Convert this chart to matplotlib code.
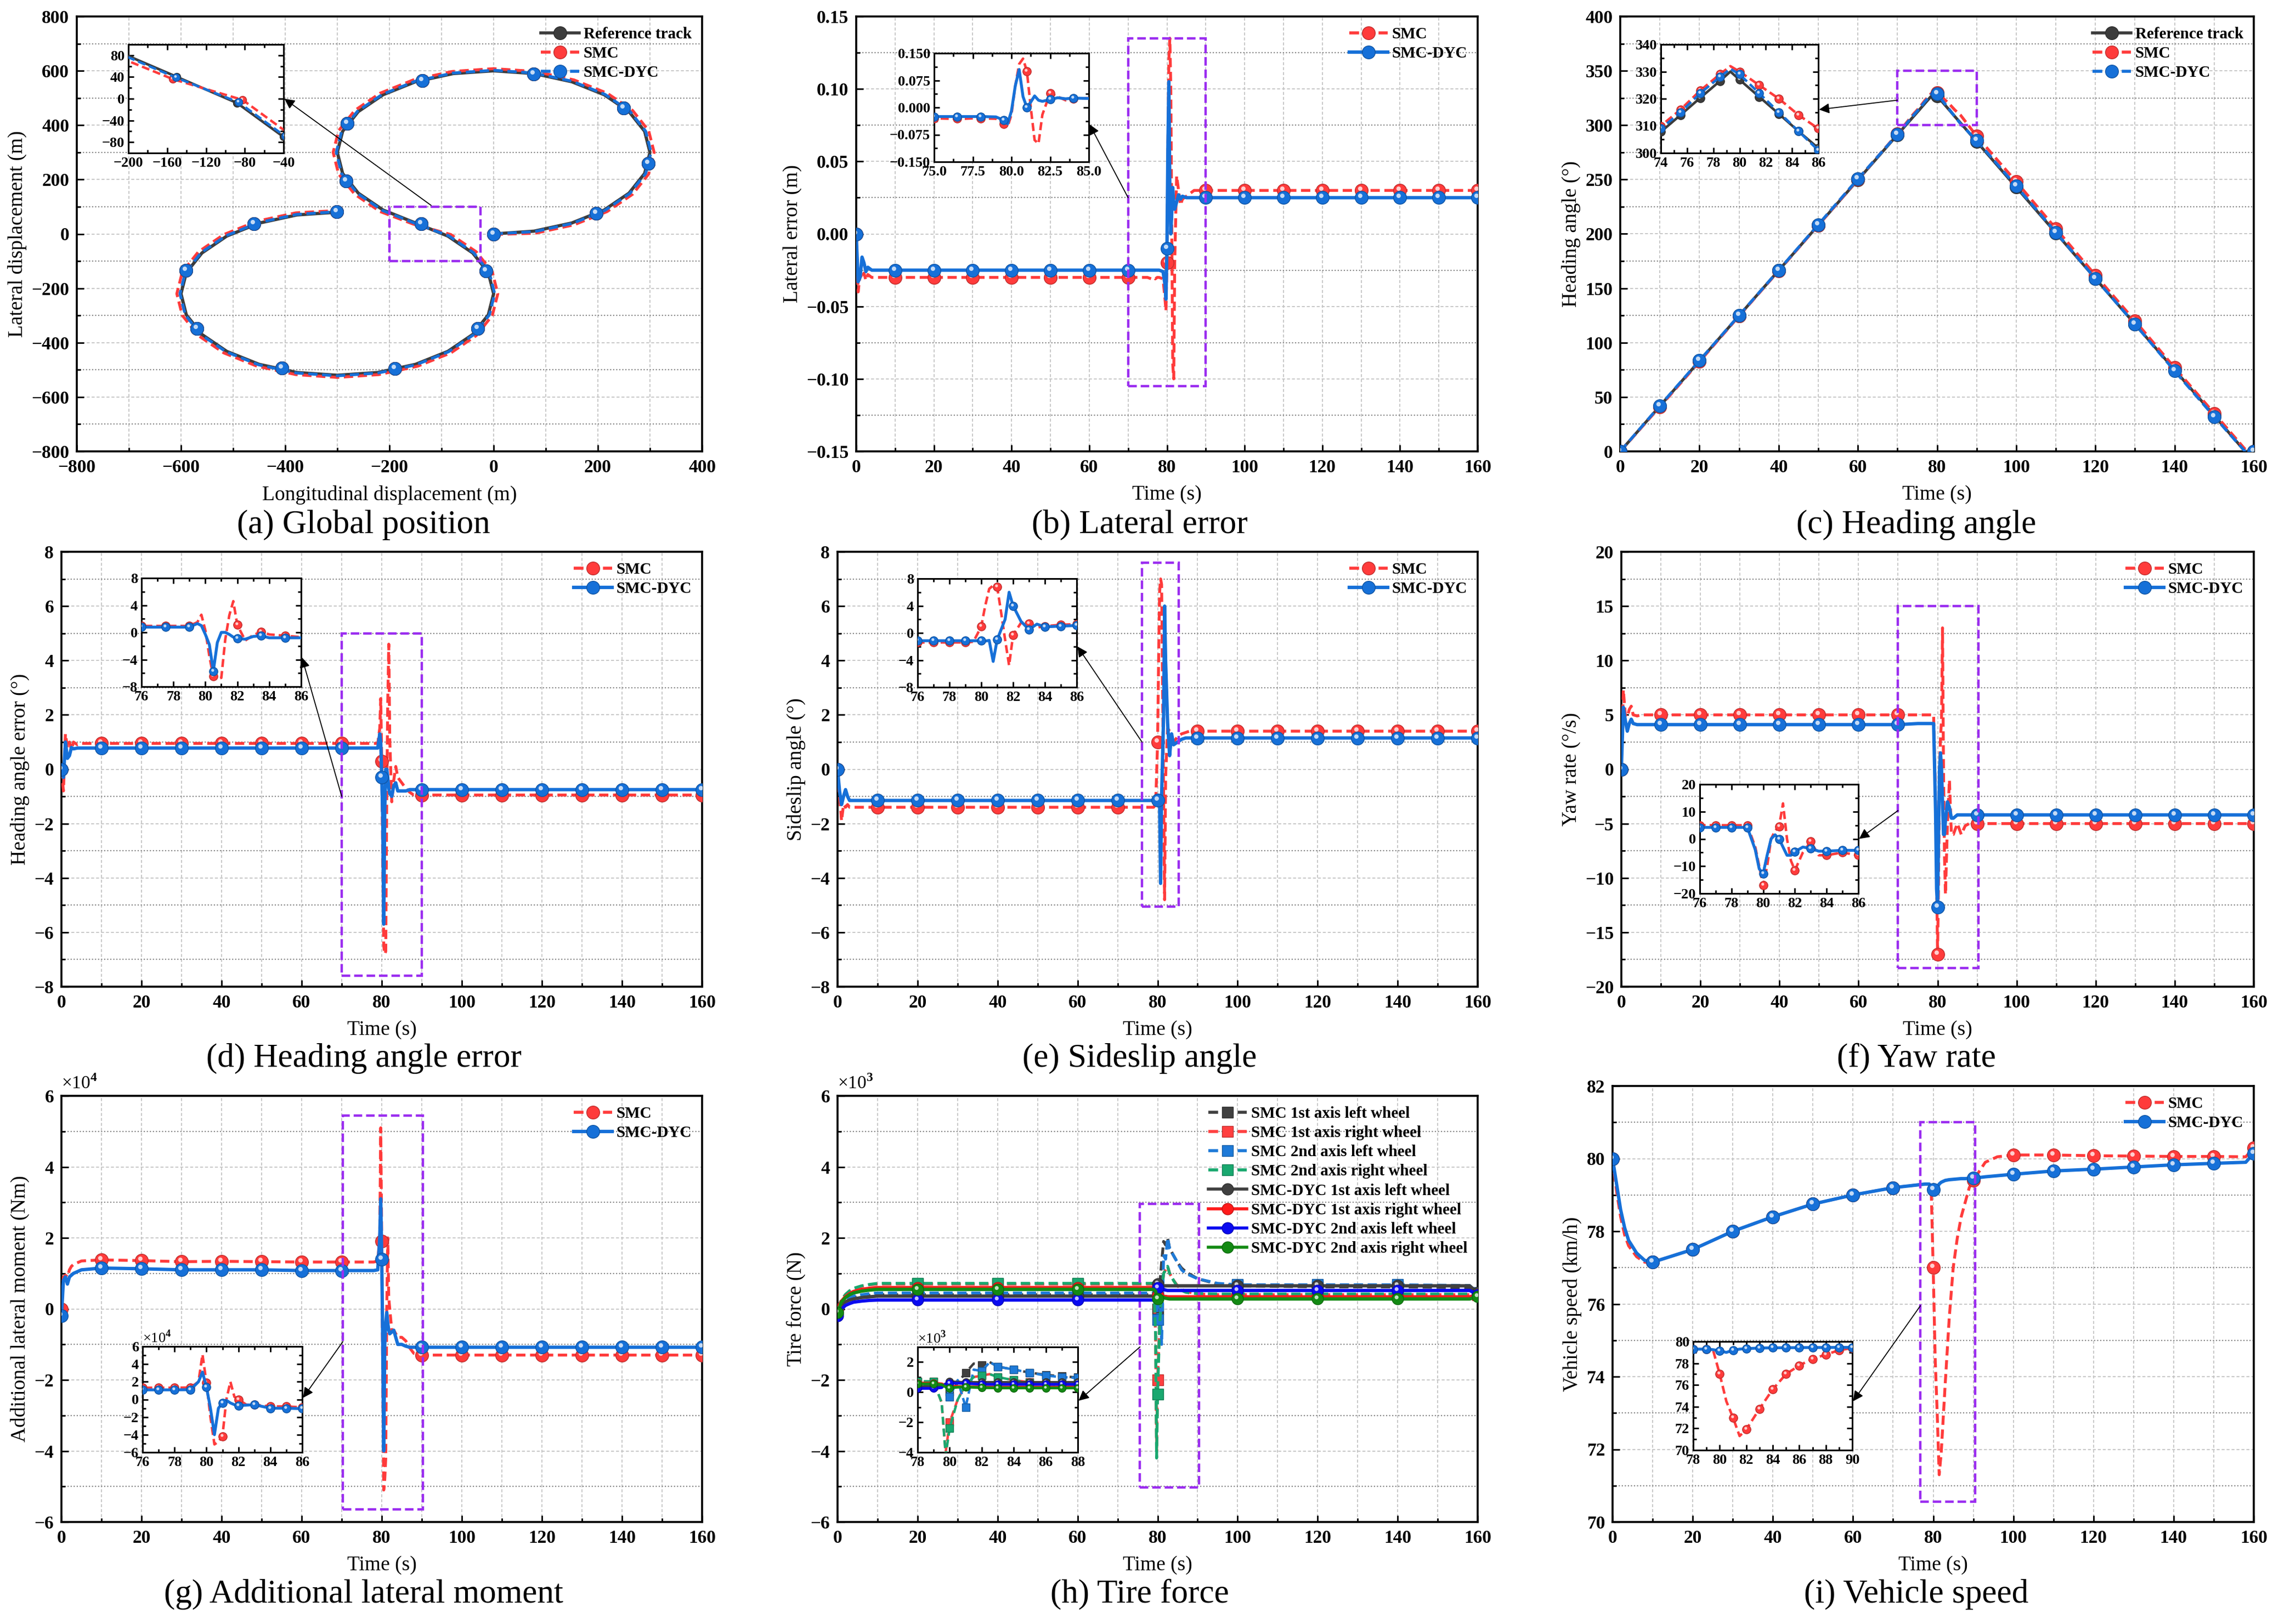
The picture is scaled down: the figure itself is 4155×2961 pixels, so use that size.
import matplotlib
matplotlib.use("Agg")
import matplotlib.pyplot as plt
import matplotlib.colors as mcolors
from matplotlib.lines import Line2D
from matplotlib.path import Path
from matplotlib.patches import Rectangle, ConnectionPatch
from matplotlib.ticker import MultipleLocator, FuncFormatter

plt.rcParams["font.family"] = ["Liberation Serif", "DejaVu Serif"]
plt.rcParams["font.weight"] = "bold"
plt.rcParams["mathtext.fontset"] = "custom"
plt.rcParams["mathtext.rm"] = "Liberation Serif"

W, H = 4155, 2961

RED = "#ff3b3b"
BLUE = "#1670d8"
GRAY = "#3c3c3c"
PURPLE = "#9b2df0"

# ---------------- (a) global position ----------------
ref_x = [0, 77.6, 150, 212.1, 259.8, 289.8, 300, 289.8, 259.8, 212.1, 150, 77.6, 0,
         -77.6, -150, -212.1, -259.8, -289.8, -300, -289.8, -259.8, -212.1, -150,
         -87.9, -40.2, -10.2, 0, -10.2, -40.2, -87.9, -150, -222.4, -300, -377.6,
         -450, -512.1, -559.8, -589.8, -600, -589.8, -559.8, -512.1, -450, -377.6, -300]
ref_y = [0, 10.2, 40.2, 87.9, 150, 222.4, 300, 377.6, 450, 512.1, 559.8, 589.8, 600,
         589.8, 559.8, 512.1, 450, 377.6, 300, 222.4, 150, 87.9, 40.2,
         -7.9, -70, -142.4, -220, -297.6, -370, -432.1, -479.8, -509.8, -520, -509.8,
         -479.8, -432.1, -370, -297.6, -220, -142.4, -70, -7.9, 39.8, 69.8, 80]
smc_x = [0, 79.7, 154, 217.8, 266.7, 297.5, 308, 297.5, 266.7, 217.8, 154, 79.7, 0,
         -79.7, -154, -217.8, -266.7, -297.5, -308, -297.5, -266.7, -217.8, -154,
         -82.2, -33.3, -2.5, 8, -2.5, -33.3, -82.2, -146, -220.3, -300, -379.7,
         -454, -517.8, -566.7, -597.5, -608, -597.5, -566.7, -517.8, -454, -379.7, -300]
smc_y = [-2, 2.5, 33.3, 82.2, 146, 220.3, 300, 379.7, 454, 517.8, 566.7, 597.5, 608,
         597.5, 566.7, 517.8, 454, 379.7, 300, 220.3, 146, 82.2, 36,
         -2.2, -66, -140.3, -220, -299.7, -374, -437.8, -486.7, -517.5, -528, -517.5,
         -486.7, -437.8, -374, -299.7, -220, -140.3, -66, -2.2, 46.7, 77.5, 86]
dyc_x = [0, 78.2, 151, 213.5, 261.5, 291.7, 302, 291.7, 261.5, 213.5, 151, 78.2, 0,
         -78.2, -151, -213.5, -261.5, -291.7, -302, -291.7, -261.5, -213.5, -151,
         -86.5, -38.5, -8.3, 2, -8.3, -38.5, -86.5, -149, -221.8, -300, -378.2,
         -451, -513.5, -561.5, -591.7, -602, -591.7, -561.5, -513.5, -451, -378.2, -300]
dyc_y = [0, 8.3, 38.5, 86.5, 149, 221.8, 300, 378.2, 451, 513.5, 561.5, 591.7, 602,
         591.7, 561.5, 513.5, 451, 378.2, 300, 221.8, 149, 86.5, 39,
         -6.5, -69, -141.8, -220, -298.2, -371, -433.5, -481.5, -511.7, -522, -511.7,
         -481.5, -433.5, -371, -298.2, -220, -141.8, -69, -6.5, 41.5, 71.7, 82]
mark_x = [0, 197, 297, 249, 77, -137, -281, -283, -139, -15, -31, -189, -406, -569, -591, -460, -301]
mark_y = [0, 75, 259, 464, 588, 564, 407, 195, 37, -137, -349, -495, -493, -349, -134, 37, 82]

# ---------------- shared simulation time (b, d, e, f, g) ----------------
t_sim = [0, 0.5, 1, 1.5, 2, 2.5, 3, 4, 5,
         10, 20, 30, 40, 50, 60, 70,
         75, 76, 76.5, 77, 77.5, 78, 79, 79.5, 79.75,
         80, 80.25, 80.5, 80.75, 81, 81.25, 81.5, 81.75, 82,
         82.5, 83, 83.5, 84, 85, 86, 87, 88,
         90, 100, 110, 120, 130, 140, 150, 160]

lat_err_smc = [0, -0.040, -0.028, -0.031, -0.027, -0.032, -0.028, -0.030, -0.030,
               -0.030, -0.030, -0.030, -0.030, -0.030, -0.030, -0.030,
               -0.030, -0.031, -0.030, -0.031, -0.030, -0.030, -0.031, -0.045, -0.053,
               -0.020, 0.060, 0.120, 0.135, 0.100, 0.000, -0.090, -0.100, -0.020,
               0.040, 0.030, 0.020, 0.024, 0.026, 0.028, 0.030, 0.030,
               0.030, 0.030, 0.030, 0.030, 0.030, 0.030, 0.030, 0.030]
lat_err_dyc = [0, -0.033, -0.030, -0.016, -0.020, -0.026, -0.023, -0.025, -0.025,
               -0.025, -0.025, -0.025, -0.025, -0.025, -0.025, -0.025,
               -0.025, -0.025, -0.025, -0.025, -0.025, -0.025, -0.026, -0.035, -0.045,
               -0.010, 0.060, 0.105, 0.030, 0.000, 0.015, 0.032, 0.020, 0.017,
               0.022, 0.027, 0.024, 0.026, 0.025, 0.025, 0.025, 0.025,
               0.025, 0.025, 0.025, 0.025, 0.025, 0.025, 0.025, 0.025]

head_err_smc = [0, -0.8, 1.3, 0.8, 1.0, 0.7, 1.0, 0.9, 0.95,
                0.95, 0.95, 0.95, 0.95, 0.95, 0.95, 0.95,
                0.95, 0.95, 0.95, 0.95, 0.95, 0.95, 0.95, 1.5, 2.6,
                0.3, -3.5, -6.5, -6.8, -6.7, -1.0, 2.5, 4.6, 1.1,
                -1.2, -0.4, 0.1, -0.3, -0.5, -0.7, -0.85, -0.95,
                -0.95, -0.95, -0.95, -0.95, -0.95, -0.95, -0.95, -0.95]
head_err_dyc = [0, -0.3, 1.0, 0.4, 0.5, 0.8, 0.75, 0.78, 0.78,
                0.78, 0.78, 0.78, 0.78, 0.78, 0.78, 0.78,
                0.78, 0.78, 0.78, 0.78, 0.78, 0.78, 0.78, 1.3, 1.0,
                -0.3, -1.8, -5.7, -1.5, 0.0, 0.0, -0.3, -0.7, -0.9,
                -1.0, -0.6, -0.5, -0.8, -0.8, -0.8, -0.75, -0.75,
                -0.75, -0.75, -0.75, -0.75, -0.75, -0.75, -0.75, -0.75]

slip_smc = [0, -1.0, -1.9, -1.3, -1.4, -1.3, -1.4, -1.4, -1.4,
            -1.4, -1.4, -1.4, -1.4, -1.4, -1.4, -1.4,
            -1.4, -1.4, -1.4, -1.4, -1.4, -1.4, -1.4, -1.3, -0.2,
            1.0, 4.0, 6.5, 7.0, 6.8, 3.0, -1.0, -4.8, -0.3,
            1.5, 1.4, 0.8, 1.0, 1.2, 1.3, 1.35, 1.4,
            1.4, 1.4, 1.4, 1.4, 1.4, 1.4, 1.4, 1.4]
slip_dyc = [0, -0.8, -1.3, -1.0, -0.75, -1.0, -1.15, -1.15, -1.15,
            -1.15, -1.15, -1.15, -1.15, -1.15, -1.15, -1.15,
            -1.15, -1.15, -1.15, -1.15, -1.15, -1.15, -1.15, -1.15, -1.15,
            -1.15, -1.2, -1.1, -4.2, -1.0, 0.5, 2.0, 6.0, 4.0,
            1.7, 0.5, 1.3, 0.9, 1.0, 1.1, 1.15, 1.15,
            1.15, 1.15, 1.15, 1.15, 1.15, 1.15, 1.15, 1.15]

yaw_smc = [0, 7.3, 5.0, 4.8, 5.5, 5.8, 5.0, 4.9, 5.0,
           5.0, 5.0, 5.0, 5.0, 5.0, 5.0, 5.0,
           5.0, 5.0, 5.0, 5.0, 5.0, 5.0, 5.0, -3.0, -10.0,
           -17.0, -10.0, 0.0, 3.0, 4.5, 13.0, 0.0, -8.0, -11.5,
           -5.0, -1.0, -6.0, -6.0, -5.0, -6.0, -5.2, -5.0,
           -5.0, -5.0, -5.0, -5.0, -5.0, -5.0, -5.0, -5.0]
yaw_dyc = [0, 5.7, 4.5, 3.5, 4.2, 4.6, 4.2, 4.1, 4.1,
           4.1, 4.1, 4.1, 4.1, 4.1, 4.1, 4.1,
           4.2, 4.2, 4.2, 4.2, 4.2, 4.2, 4.2, -4.0, -11.0,
           -12.7, -6.0, 0.0, 1.5, 0.0, -3.0, -6.0, -6.0, -4.7,
           -3.0, -3.5, -4.5, -4.5, -4.2, -4.2, -4.2, -4.2,
           -4.2, -4.2, -4.2, -4.2, -4.2, -4.2, -4.2, -4.2]

# additional lateral moment, in units of 1e4 Nm
moment_smc = [0, 0.9, 0.95, 0.9, 1.1, 1.2, 1.25, 1.3, 1.35,
              1.38, 1.36, 1.33, 1.34, 1.33, 1.32, 1.32,
              1.32, 1.32, 1.32, 1.32, 1.32, 1.32, 1.35, 2.0, 5.1,
              1.9, -2.0, -5.1, -4.8, -4.2, 0.0, 2.0, 0.3, 0.0,
              -0.6, -0.6, -0.7, -0.8, -0.8, -0.9, -1.1, -1.25,
              -1.3, -1.3, -1.3, -1.3, -1.3, -1.3, -1.3, -1.3]
moment_dyc = [-0.2, 0.8, 0.9, 0.7, 0.9, 0.95, 1.0, 1.05, 1.1,
              1.15, 1.13, 1.1, 1.1, 1.1, 1.08, 1.08,
              1.08, 1.08, 1.08, 1.08, 1.08, 1.08, 1.1, 2.0, 3.1,
              1.4, -1.0, -4.0, -1.0, -0.4, -0.1, -0.4, -0.6, -0.7,
              -0.65, -0.6, -0.8, -1.0, -1.0, -1.05, -1.08, -1.08,
              -1.08, -1.08, -1.08, -1.08, -1.08, -1.08, -1.08, -1.08]

# ---------------- (c) heading angle ----------------
t_head = [0, 10, 20, 30, 40, 50, 60, 70, 74, 75.5, 77, 78.5, 79.3, 80, 81.5, 83, 84.5, 86,
          90, 100, 110, 120, 130, 140, 150, 157.8, 160]
head_ref = [0, 41.6, 83.2, 124.8, 166.4, 208, 249.6, 291.2, 307.8, 314, 320.3, 326.5, 330,
            327, 320.7, 314.4, 308, 301.8, 285, 243, 201, 159, 117, 75, 33, 0, 0]
head_smc = [0, 41, 82.5, 124.5, 166, 208, 250, 292, 310, 316, 323, 329, 332, 330, 325, 320,
            314, 309, 290, 248, 205, 162, 120, 77, 35, 2, 0]
head_dyc = [0, 42, 83.5, 125, 166.5, 208.5, 250.5, 291.5, 309, 315, 322, 328, 331, 329, 322,
            315, 308, 301, 286, 244, 201.5, 159, 117, 74, 32, 0, 0]

# ---------------- (h) tire force, in units of 1e3 N ----------------
t_tire = [0, 1, 2, 3, 4, 6, 8, 10,
          20, 40, 60, 78,
          79, 79.5, 79.75, 80, 80.5, 81, 81.5, 82, 82.5,
          83, 84, 85, 86, 87, 88, 90, 95, 100,
          120, 140, 158, 160]
tire_labels = ["SMC 1st axis left wheel", "SMC 1st axis right wheel",
               "SMC 2nd axis left wheel", "SMC 2nd axis right wheel",
               "SMC-DYC 1st axis left wheel", "SMC-DYC 1st axis right wheel",
               "SMC-DYC 2nd axis left wheel", "SMC-DYC 2nd axis right wheel"]
tire_smc_1l = [0.0, 0.14, 0.22, 0.28, 0.32, 0.36, 0.38, 0.40,
               0.40, 0.40, 0.40, 0.40,
               0.40, 0.40, 0.20, 0.00, 0.60, 1.30, 1.90, 1.80, 2.00,
               1.70, 1.50, 1.30, 1.15, 1.05, 0.98, 0.85, 0.70, 0.65,
               0.62, 0.62, 0.60, 0.45]
tire_smc_1r = [0.0, 0.25, 0.40, 0.50, 0.57, 0.64, 0.68, 0.70,
               0.70, 0.70, 0.70, 0.70,
               0.70, -0.70, -4.00, -2.00, -0.50, 0.50, 1.00, 1.10, 1.20,
               1.00, 0.80, 0.65, 0.55, 0.50, 0.47, 0.42, 0.40, 0.40,
               0.40, 0.40, 0.40, 0.40]
tire_smc_2l = [0.0, 0.16, 0.26, 0.32, 0.36, 0.40, 0.43, 0.45,
               0.45, 0.45, 0.45, 0.45,
               0.45, 0.45, 0.40, -0.30, 0.80, -1.00, 1.50, 1.40, 2.00,
               1.70, 1.50, 1.30, 1.10, 1.00, 0.95, 0.85, 0.72, 0.68,
               0.68, 0.68, 0.66, 0.45]
tire_smc_2r = [0.0, 0.26, 0.41, 0.51, 0.58, 0.65, 0.69, 0.72,
               0.72, 0.72, 0.72, 0.72,
               0.72, -0.70, -4.20, -2.40, -0.50, 0.50, 1.00, 1.10, 1.20,
               1.00, 0.80, 0.62, 0.52, 0.47, 0.45, 0.43, 0.42, 0.42,
               0.42, 0.42, 0.42, 0.42]
tire_dyc_1l = [0.0, 0.13, 0.20, 0.25, 0.28, 0.32, 0.34, 0.36,
               0.36, 0.36, 0.36, 0.36,
               0.36, 0.40, 0.55, 0.70, 0.66, 0.65, 0.65, 0.65, 0.65,
               0.65, 0.65, 0.65, 0.65, 0.65, 0.65, 0.65, 0.65, 0.65,
               0.65, 0.65, 0.65, 0.45]
tire_dyc_1r = [0.0, 0.22, 0.35, 0.43, 0.49, 0.55, 0.58, 0.60,
               0.60, 0.60, 0.60, 0.60,
               0.60, 0.55, 0.45, 0.40, 0.38, 0.36, 0.35, 0.35, 0.34,
               0.34, 0.34, 0.34, 0.34, 0.34, 0.34, 0.34, 0.34, 0.34,
               0.34, 0.34, 0.34, 0.40]
tire_dyc_2l = [-0.2, 0.0, 0.10, 0.15, 0.19, 0.22, 0.24, 0.25,
               0.25, 0.25, 0.25, 0.25,
               0.25, 0.30, 0.55, 0.60, 0.60, 0.58, 0.55, 0.53, 0.52,
               0.52, 0.52, 0.52, 0.52, 0.52, 0.52, 0.52, 0.52, 0.52,
               0.52, 0.52, 0.52, 0.40]
tire_dyc_2r = [-0.1, 0.20, 0.32, 0.40, 0.45, 0.50, 0.53, 0.55,
               0.55, 0.55, 0.55, 0.55,
               0.55, 0.50, 0.35, 0.28, 0.33, 0.35, 0.32, 0.30, 0.29,
               0.28, 0.28, 0.28, 0.28, 0.28, 0.28, 0.28, 0.28, 0.28,
               0.28, 0.28, 0.28, 0.35]
tire_colors = ["#404040", "#ff4040", "#1e7ad8", "#19a86f",
               "#404040", "#ff1a1a", "#0a0af0", "#138a13"]

# ---------------- (i) vehicle speed ----------------
t_speed = [0, 1, 2, 3, 4, 6, 8, 10, 20, 30, 40, 50, 60, 70,
           78, 79, 79.5, 80, 80.5, 81, 81.5, 82,
           83, 84, 85, 86, 87, 88, 89, 90, 93, 96, 100,
           110, 120, 130, 140, 150, 158, 160]
speed_smc = [80.0, 79.1, 78.4, 77.9, 77.6, 77.3, 77.15, 77.15, 77.5, 78.0, 78.4, 78.75, 79.0, 79.2,
             79.3, 79.3, 79.2, 77.0, 74.5, 73.0, 71.3, 71.9,
             73.8, 75.6, 77.0, 77.8, 78.4, 78.8, 79.2, 79.4, 79.9, 80.05, 80.1,
             80.1, 80.08, 80.07, 80.06, 80.06, 80.05, 80.3]
speed_dyc = [80.0, 79.3, 78.6, 78.1, 77.75, 77.4, 77.2, 77.15, 77.5, 78.0, 78.4, 78.75, 79.0, 79.2,
             79.3, 79.3, 79.25, 79.15, 79.0, 79.2, 79.3, 79.35,
             79.4, 79.42, 79.43, 79.44, 79.45, 79.45, 79.46, 79.46, 79.5, 79.53, 79.57,
             79.66, 79.71, 79.77, 79.83, 79.87, 79.9, 80.15]

titles = ["(a) Global position", "(b) Lateral error", "(c) Heading angle",
          "(d) Heading angle error", "(e) Sideslip angle", "(f) Yaw rate",
          "(g) Additional lateral moment", "(h) Tire force", "(i) Vehicle speed"]

# pixel boxes (left, right, top, bottom) measured on the reference
main_px = {"a": (140, 1280, 30, 823), "b": (1561, 2694, 30, 823), "c": (2954, 4109, 30, 823),
           "d": (112, 1280, 1006, 1799), "e": (1527, 2694, 1006, 1799), "f": (2956, 4109, 1006, 1799),
           "g": (112, 1280, 1998, 2775), "h": (1527, 2694, 1998, 2775), "i": (2940, 4109, 1980, 2775)}
inset_px = {"a": (234, 517, 81, 279), "b": (1703, 1985, 97, 295), "c": (3028, 3315, 81, 279),
            "d": (258, 549, 1054, 1252), "e": (1673, 1963, 1055, 1253), "f": (3099, 3388, 1430, 1629),
            "g": (260, 551, 2455, 2648), "h": (1673, 1965, 2456, 2648), "i": (3087, 3377, 2446, 2644)}

TICK = 24
LABEL = 27
LEG = 21
TICK_IN = 19
TITLE = 44

# small off-centre glint that gives the ball markers their shaded look
GLINT = Path.make_compound_path(Path([(-1, -1), (1, 1)], [Path.MOVETO, Path.MOVETO]),
                                Path.circle((-0.22, 0.3), 0.34))


def frac(l, r, t, b):
    return [l / W, 1 - b / H, (r - l) / W, (b - t) / H]


def every(t, step, start=0.0, lo=-1e9, hi=1e9):
    out = []
    for v in t:
        k = (v - start) / step
        out.append(abs(k - round(k)) < 1e-6 and lo <= v <= hi)
    return out


def dark(c, f=0.75):
    r, g, b = mcolors.to_rgb(c)
    return (r * f, g * f, b * f)


def fmt(spec):
    def _f(v, pos):
        if abs(v) < 1e-9:
            v = 0.0
        return (spec % v).replace("-", "\u2212")
    return FuncFormatter(_f)


def style(ax, xlim, ylim, xstep, ystep, xspec="%d", yspec="%d", size=TICK, inset=False):
    ax.set_xlim(*xlim)
    ax.set_ylim(*ylim)
    ax.xaxis.set_major_locator(MultipleLocator(xstep))
    ax.xaxis.set_minor_locator(MultipleLocator(xstep / 2))
    ax.yaxis.set_major_locator(MultipleLocator(ystep))
    ax.yaxis.set_minor_locator(MultipleLocator(ystep / 2))
    ax.xaxis.set_major_formatter(fmt(xspec))
    ax.yaxis.set_major_formatter(fmt(yspec))
    ax.tick_params(which="both", direction="in", labelsize=size, width=2,
                   top=inset, right=inset)
    ax.tick_params(which="major", length=9 if not inset else 7, pad=10 if not inset else 5)
    ax.tick_params(which="minor", length=5 if not inset else 4)
    for s in ax.spines.values():
        s.set_linewidth(2.6 if not inset else 2.2)
    if not inset:
        ax.grid(True, which="major", axis="both", color="#c4c4c4", lw=1.3, ls=(0, (3, 2)))
        ax.grid(True, which="minor", axis="x", color="#c4c4c4", lw=1.3, ls=(0, (3, 2)))
        ax.grid(True, which="minor", axis="y", color="#8a8a8a", lw=1.6, ls=(0, (1, 1.5)))
        ax.set_axisbelow(True)


def series(ax, t, y, color, dashed, lw, mask, ms, marker="o", z=3, shine=True):
    line, = ax.plot(t, y, color=color, lw=lw, marker=marker, markevery=mask, ms=ms,
                    mfc=color, mec=dark(color), mew=1.0, zorder=z)
    if dashed:
        line.set_dashes((3.2, 1.6))
    if shine:
        ax.plot(t, y, ls="none", marker=GLINT, markevery=mask, ms=ms, mfc="white",
                mec="none", alpha=0.75, zorder=z + 0.1)


def handle(color, dashed, lw, marker="o", ms=17):
    h = Line2D([0], [0], color=color, lw=lw, marker=marker, ms=ms, mfc=color, mec=dark(color))
    if dashed:
        h.set_dashes((3.2, 1.6))
    return h


def legend(ax, handles, labels, size=LEG):
    ax.legend(handles, labels, loc="upper right", frameon=False, fontsize=size,
              handlelength=2.4, handletextpad=0.25, labelspacing=0.28, borderaxespad=0.25)


def zoom_box(ax, x0, x1, y0, y1):
    ax.add_patch(Rectangle((x0, y0), x1 - x0, y1 - y0, fill=False, ec=PURPLE, lw=3.2,
                           ls=(0, (3.5, 1.6)), zorder=6))


def arrow(fig, ax, ins, xy_data, y_frac):
    fig.add_artist(ConnectionPatch(xyA=xy_data, coordsA=ax.transData, xyB=(1.005, y_frac),
                                   coordsB=ins.transAxes, arrowstyle="-|>", mutation_scale=28,
                                   lw=1.3, color="black", zorder=20))


def xlabel(ax, text):
    ax.set_xlabel(text, fontsize=LABEL, labelpad=12)


def ylabel(ax, text):
    ax.set_ylabel(text, fontsize=LABEL, labelpad=6)


fig = plt.figure(figsize=(W / 100, H / 100), dpi=100)

# ---------------- (a) ----------------
ax = fig.add_axes(frac(*main_px["a"]))
style(ax, (-800, 400), (-800, 800), 200, 200)
ax.plot(ref_x, ref_y, color=GRAY, lw=4.2, zorder=3)
for xs, ys, c in ((smc_x, smc_y, RED), (dyc_x, dyc_y, BLUE)):
    ln, = ax.plot(xs, ys, color=c, lw=3.8, zorder=4)
    ln.set_dashes((3.2, 1.6))
for c, z in ((GRAY, 5), (RED, 6), (BLUE, 7)):
    series(ax, mark_x, mark_y, c, False, 0, [True] * len(mark_x), 17, z=z)
zoom_box(ax, -200, -25, -100, 100)
xlabel(ax, "Longitudinal displacement (m)")
ylabel(ax, "Lateral displacement (m)")
legend(ax, [handle(GRAY, False, 4), handle(RED, True, 4), handle(BLUE, True, 4)],
       ["Reference track", "SMC", "SMC-DYC"])
ins = fig.add_axes(frac(*inset_px["a"]))
style(ins, (-200, -40), (-100, 100), 40, 40, size=TICK_IN, inset=True)
ins.xaxis.set_minor_locator(MultipleLocator(20))
all_pts = [True] * len(ref_x)
series(ins, ref_x, ref_y, GRAY, False, 3.4, all_pts, 10, z=3)
series(ins, smc_x, smc_y, RED, True, 3.2, all_pts, 10, z=4)
series(ins, dyc_x, dyc_y, BLUE, True, 3.2, all_pts, 10, z=5)
arrow(fig, ax, ins, (-120, 105), 0.5)

# ---------------- time panels ----------------
mark10 = every(t_sim, 10)


def time_panel(key, ysmc, ydyc, ylim, ystep, yspec, ylab, box, tail, yfrac,
               in_x, in_y, in_xstep, in_ystep, in_xspec, in_yspec, in_mark):
    ax = fig.add_axes(frac(*main_px[key]))
    style(ax, (0, 160), ylim, 20, ystep, "%d", yspec)
    series(ax, t_sim, ysmc, RED, True, 3.8, mark10, 17, z=3)
    series(ax, t_sim, ydyc, BLUE, False, 4.4, mark10, 17, z=4)
    zoom_box(ax, *box)
    xlabel(ax, "Time (s)")
    ylabel(ax, ylab)
    legend(ax, [handle(RED, True, 4), handle(BLUE, False, 4.5)], ["SMC", "SMC-DYC"])
    ins = fig.add_axes(frac(*inset_px[key]))
    style(ins, in_x, in_y, in_xstep, in_ystep, in_xspec, in_yspec, size=TICK_IN, inset=True)
    series(ins, t_sim, ysmc, RED, True, 3.3, in_mark, 11, z=3)
    series(ins, t_sim, ydyc, BLUE, False, 3.8, in_mark, 11, z=4)
    arrow(fig, ax, ins, tail, yfrac)
    return ax, ins


time_panel("b", lat_err_smc, lat_err_dyc, (-0.15, 0.15), 0.05, "%.2f", "Lateral error (m)",
           (70, 90, -0.105, 0.135), (70, 0.025), 0.345,
           (75, 85), (-0.15, 0.15), 2.5, 0.075, "%.1f", "%.3f",
           every(t_sim, 1.5, 75, 75, 85))
time_panel("d", head_err_smc, head_err_dyc, (-8, 8), 2, "%d", "Heading angle error (°)",
           (70, 90, -7.6, 5.0), (70, -1.0), 0.27,
           (76, 86), (-8, 8), 2, 4, "%d", "%d", every(t_sim, 1.5, 76, 76, 86))
time_panel("e", slip_smc, slip_dyc, (-8, 8), 2, "%d", "Sideslip angle (°)",
           (76.1, 85.3, -5.05, 7.6), (76.1, 1.0), 0.375,
           (76, 86), (-8, 8), 2, 4, "%d", "%d", every(t_sim, 1, 76, 76, 86))
time_panel("f", yaw_smc, yaw_dyc, (-20, 20), 5, "%d", "Yaw rate (°/s)",
           (70, 90.3, -18.3, 15), (70, -3.8), 0.5,
           (76, 86), (-20, 20), 2, 10, "%d", "%d", every(t_sim, 1, 76, 76, 86))
ax_g, ins_g = time_panel("g", moment_smc, moment_dyc, (-6, 6), 2, "%d",
                         "Additional lateral moment (Nm)",
                         (70.3, 90.3, -5.65, 5.45), (70.3, -0.92), 0.515,
                         (76, 86), (-6, 6), 2, 2, "%d", "%d", every(t_sim, 1, 76, 76, 86))
ax_g.text(0.0, 1.008, "×10$^{4}$", transform=ax_g.transAxes, fontsize=24, fontweight="normal",
          ha="left", va="bottom")
ins_g.text(0.0, 1.01, "×10$^{4}$", transform=ins_g.transAxes, fontsize=19, fontweight="normal",
           ha="left", va="bottom")

# ---------------- (c) heading angle ----------------
ax = fig.add_axes(frac(*main_px["c"]))
style(ax, (0, 160), (0, 400), 20, 50)
m_c = every(t_head, 10)
series(ax, t_head, head_ref, GRAY, False, 3.8, m_c, 17, z=3)
series(ax, t_head, head_smc, RED, True, 3.8, m_c, 17, z=4)
series(ax, t_head, head_dyc, BLUE, True, 3.8, m_c, 17, z=5)
zoom_box(ax, 70, 90, 300, 350)
xlabel(ax, "Time (s)")
ylabel(ax, "Heading angle (°)")
legend(ax, [handle(GRAY, False, 4), handle(RED, True, 4), handle(BLUE, True, 4)],
       ["Reference track", "SMC", "SMC-DYC"])
ins = fig.add_axes(frac(*inset_px["c"]))
style(ins, (74, 86), (300, 340), 2, 10, size=TICK_IN, inset=True)
m_ci = every(t_head, 1.5, 74, 74, 86)
series(ins, t_head, head_ref, GRAY, False, 3.3, m_ci, 11, z=3)
series(ins, t_head, head_smc, RED, True, 3.3, m_ci, 11, z=4)
series(ins, t_head, head_dyc, BLUE, True, 3.3, m_ci, 11, z=5)
arrow(fig, ax, ins, (70, 323), 0.4)

# ---------------- (h) tire force ----------------
ax = fig.add_axes(frac(*main_px["h"]))
style(ax, (0, 160), (-6, 6), 20, 2)
tire_series = [tire_smc_1l, tire_smc_1r, tire_smc_2l, tire_smc_2r,
               tire_dyc_1l, tire_dyc_1r, tire_dyc_2l, tire_dyc_2r]
m_h = every(t_tire, 20)
m_hi = every(t_tire, 1, 78, 78, 88)
ins = fig.add_axes(frac(*inset_px["h"]))
style(ins, (78, 88), (-4, 3), 2, 2, size=TICK_IN, inset=True)
hh = []
for k, (ys, c) in enumerate(zip(tire_series, tire_colors)):
    smc = k < 4
    mk = "s" if smc else "o"
    series(ax, t_tire, ys, c, smc, 3.8 if smc else 4.4, m_h, 15, marker=mk, z=3 + k, shine=not smc)
    series(ins, t_tire, ys, c, smc, 3.2 if smc else 3.7, m_hi, 10, marker=mk, z=3 + k, shine=not smc)
    hh.append(handle(c, smc, 4, marker=mk, ms=15))
zoom_box(ax, 75.6, 90.3, -5.03, 2.96)
xlabel(ax, "Time (s)")
ylabel(ax, "Tire force (N)")
legend(ax, hh, tire_labels)
ax.text(0.0, 1.008, "×10$^{3}$", transform=ax.transAxes, fontsize=24, fontweight="normal",
        ha="left", va="bottom")
ins.text(0.0, 1.01, "×10$^{3}$", transform=ins.transAxes, fontsize=19, fontweight="normal",
         ha="left", va="bottom")
arrow(fig, ax, ins, (75.6, -1.07), 0.49)

# ---------------- (i) vehicle speed ----------------
ax = fig.add_axes(frac(*main_px["i"]))
style(ax, (0, 160), (70, 82), 20, 2)
m_i = every(t_speed, 10)
series(ax, t_speed, speed_smc, RED, True, 3.8, m_i, 17, z=3)
series(ax, t_speed, speed_dyc, BLUE, False, 4.4, m_i, 17, z=4)
zoom_box(ax, 76.8, 90.5, 70.56, 81.0)
xlabel(ax, "Time (s)")
ylabel(ax, "Vehicle speed (km/h)")
legend(ax, [handle(RED, True, 4), handle(BLUE, False, 4.5)], ["SMC", "SMC-DYC"])
ins = fig.add_axes(frac(*inset_px["i"]))
style(ins, (78, 90), (70, 80), 2, 2, size=TICK_IN, inset=True)
m_ii = every(t_speed, 1, 78, 78, 90)
series(ins, t_speed, speed_smc, RED, True, 3.3, m_ii, 11, z=3)
series(ins, t_speed, speed_dyc, BLUE, False, 3.8, m_ii, 11, z=4)
arrow(fig, ax, ins, (76.8, 75.95), 0.45)

# ---------------- panel titles ----------------
col_x = [663, 2078, 3494]
row_y = [957, 1930, 2907]
for k, title in enumerate(titles):
    fig.text(col_x[k % 3] / W, 1 - row_y[k // 3] / H, title, fontsize=TITLE, fontweight="normal",
             ha="center", va="center")

fig.savefig("out.png", dpi=100, facecolor="white")
